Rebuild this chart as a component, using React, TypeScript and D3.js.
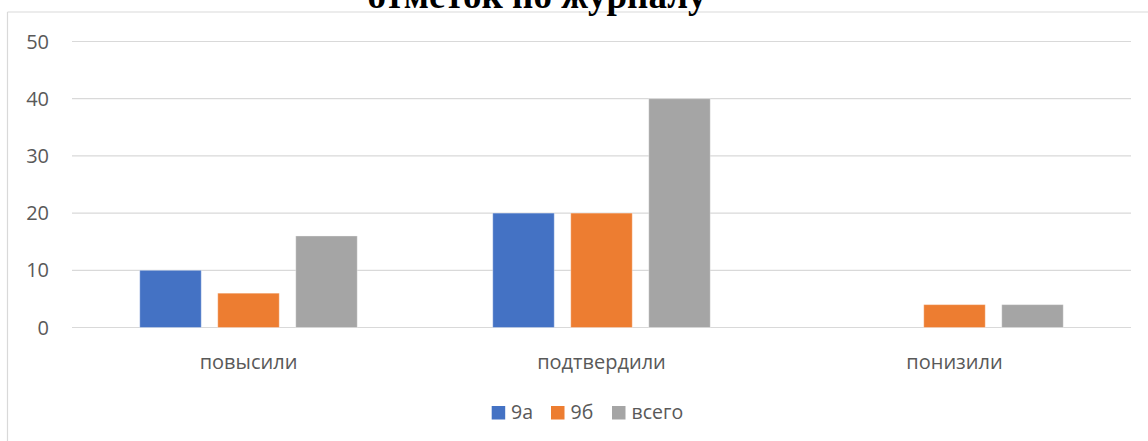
import React from "react";
import * as d3 from "d3";

const categories = ["повысили", "подтвердили", "понизили"];
const seriesNames = ["9а", "9б", "всего"];
const seriesColors = ["#4472C4", "#ED7D31", "#A5A5A5"];
const values9a = [10, 20, 0];
const values9b = [6, 20, 4];
const valuesTotal = [16, 40, 4];
const yTicks = [0, 10, 20, 30, 40, 50];
const titleText = "отметок по журналу";

const W = 1148;
const H = 441;

export default function App() {
  const series = [values9a, values9b, valuesTotal];
  const x = d3.scaleBand<string>().domain(categories).range([72, 1131]).padding(0);
  const y = d3.scaleLinear().domain([0, 50]).range([327.5, 41.5]);
  const inner = d3
    .scaleBand<string>()
    .domain(seriesNames)
    .range([-108.75, 108.75])
    .paddingInner(0.2115)
    .paddingOuter(0);

  const font = "'Open Sans', 'Liberation Sans', sans-serif";
  const fs = 20;
  const legendItems = [
    { x: 491.7, tx: 511 },
    { x: 551, tx: 570.5 },
    { x: 612, tx: 631.5 },
  ];

  return (
    <svg
      width={W}
      height={H}
      style={{ position: "absolute", left: 0, top: 0, background: "#fff" }}
      fontFamily={font}
    >
      <rect x={0} y={0} width={W} height={H} fill="#fff" />
      {/* frame */}
      <line x1={7.5} y1={12} x2={W} y2={12} stroke="#d9d9d9" strokeWidth={1} />
      <line x1={7.5} y1={12} x2={7.5} y2={H} stroke="#d9d9d9" strokeWidth={1.2} />
      {/* gridlines */}
      {yTicks.map((t) => (
        <g key={t}>
          <line x1={72} x2={1131} y1={y(t)} y2={y(t)} stroke="#d9d9d9" strokeWidth={1.2} />
          <text
            x={49}
            y={y(t)}
            dy="0.35em"
            textAnchor="end"
            fontSize={fs}
            fill="#595959"
          >
            {t}
          </text>
        </g>
      ))}
      {/* bars */}
      {categories.map((c, ci) => {
        const cx = (x(c) as number) + x.bandwidth() / 2;
        return series.map((vals, si) => {
          const v = vals[ci];
          if (v === 0) return null;
          const bx = cx + (inner(seriesNames[si]) as number);
          return (
            <rect
              key={c + si}
              x={bx}
              y={y(v)}
              width={inner.bandwidth()}
              height={y(0) - y(v)}
              fill={seriesColors[si]}
              stroke="#ffffff"
              strokeOpacity={0.35}
              strokeWidth={1}
            />
          );
        });
      })}
      {/* category labels */}
      {categories.map((c) => (
        <text
          key={c}
          x={(x(c) as number) + x.bandwidth() / 2}
          y={362}
          dy="0.35em"
          textAnchor="middle"
          fontSize={fs}
          fill="#595959"
        >
          {c}
        </text>
      ))}
      {/* legend */}
      {seriesNames.map((s, i) => (
        <g key={s}>
          <rect x={legendItems[i].x} y={406} width={13.5} height={13.5} fill={seriesColors[i]} />
          <text x={legendItems[i].tx} y={412.5} dy="0.35em" fontSize={19.5} fill="#595959">
            {s}
          </text>
        </g>
      ))}
      {/* title (cut off at the top, as in the reference) */}
      <text
        x={537}
        y={7.5}
        textAnchor="middle"
        fontFamily="'Liberation Serif', 'Times New Roman', serif"
        fontWeight="bold"
        fontSize={37}
        fill="#000"
      >
        {titleText}
      </text>
    </svg>
  );
}
